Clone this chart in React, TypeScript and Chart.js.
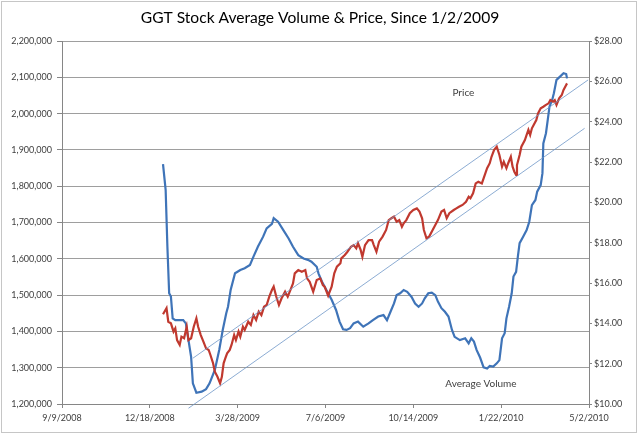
import { useEffect, useRef } from "react"
import { Chart, registerables } from "chart.js"

Chart.register(...registerables)

// dates are Excel serial numbers (39700 = 9/9/2008)
const volumeDates = [
  39815, 39818, 39820, 39822, 39824, 39826, 39829, 39838, 39841, 39844, 39847, 39849, 39853, 39859, 39864, 39868,
  39874, 39879, 39883, 39887, 39889, 39892, 39897, 39903, 39908, 39914, 39918, 39923, 39929, 39933, 39939, 39941,
  39946, 39952, 39958, 39963, 39969, 39975, 39980, 39984, 39990, 39992, 39996, 40001, 40007, 40012, 40016, 40020,
  40024, 40028, 40032, 40037, 40043, 40049, 40054, 40060, 40066, 40070, 40074, 40078, 40081, 40085, 40089, 40093,
  40098, 40102, 40106, 40110, 40113, 40117, 40121, 40125, 40128, 40132, 40136, 40140, 40144, 40147, 40153, 40159,
  40163, 40166, 40169, 40172, 40176, 40180, 40184, 40187, 40191, 40195, 40198, 40201, 40204, 40206, 40209, 40212,
  40214, 40217, 40219, 40221, 40225, 40229, 40232, 40235, 40239, 40241, 40245, 40247, 40248, 40251, 40253, 40255,
  40258, 40260, 40263, 40267, 40271, 40274, 40275,
]
const volumeValues = [
  1861000, 1790000, 1633000, 1505000, 1496000, 1436000, 1431000, 1431000, 1422000, 1376000, 1330000, 1257000,
  1231000, 1234000, 1241000, 1257000, 1294000, 1349000, 1404000, 1450000, 1468000, 1514000, 1560000, 1569000,
  1574000, 1583000, 1606000, 1633000, 1661000, 1684000, 1696000, 1712000, 1702000, 1679000, 1656000, 1633000,
  1610000, 1601000, 1597000, 1592000, 1578000, 1560000, 1537000, 1514000, 1487000, 1459000, 1427000, 1406000,
  1404000, 1409000, 1422000, 1427000, 1413000, 1422000, 1431000, 1441000, 1445000, 1431000, 1454000, 1477000,
  1500000, 1505000, 1514000, 1509000, 1495000, 1477000, 1468000, 1477000, 1491000, 1505000, 1507000, 1500000,
  1482000, 1464000, 1454000, 1441000, 1404000, 1385000, 1376000, 1381000, 1367000, 1381000, 1372000, 1349000,
  1328000, 1301000, 1298000, 1305000, 1303000, 1312000, 1321000, 1381000, 1395000, 1436000, 1468000, 1505000,
  1551000, 1564000, 1606000, 1643000, 1661000, 1679000, 1702000, 1748000, 1762000, 1785000, 1803000, 1836000,
  1918000, 1946000, 1982000, 2019000, 2037000, 2056000, 2093000, 2102000, 2111000, 2109000, 2097000,
]

const priceDates = [
  39815, 39819, 39821, 39824, 39827, 39829, 39831, 39834, 39836, 39839, 39842, 39844, 39847, 39850, 39853, 39855,
  39858, 39861, 39864, 39867, 39869, 39872, 39874, 39877, 39880, 39882, 39884, 39886, 39888, 39891, 39893, 39896,
  39898, 39901, 39903, 39906, 39908, 39912, 39915, 39918, 39921, 39924, 39927, 39930, 39933, 39936, 39939, 39941,
  39944, 39947, 39950, 39954, 39957, 39960, 39963, 39965, 39969, 39973, 39977, 39979, 39982, 39986, 39990, 39994,
  39997, 39999, 40003, 40007, 40010, 40013, 40017, 40018, 40022, 40025, 40029, 40032, 40035, 40037, 40040, 40042,
  40045, 40049, 40053, 40055, 40058, 40061, 40065, 40069, 40072, 40075, 40078, 40081, 40084, 40087, 40089, 40092,
  40096, 40100, 40104, 40107, 40110, 40112, 40115, 40118, 40122, 40125, 40128, 40132, 40135, 40138, 40141, 40146,
  40149, 40152, 40156, 40160, 40163, 40165, 40168, 40171, 40174, 40178, 40180, 40184, 40187, 40189, 40192, 40195,
  40198, 40201, 40203, 40206, 40208, 40211, 40213, 40215, 40217, 40218, 40221, 40223, 40227, 40229, 40231, 40233,
  40235, 40237, 40240, 40242, 40245, 40248, 40251, 40254, 40256, 40259, 40261, 40263, 40266, 40269, 40271, 40274,
  40275,
]
const priceValues = [
  14.45, 14.75, 14.08, 14.0, 13.59, 13.75, 13.17, 12.93, 13.34, 13.26, 13.83, 13.17, 13.26, 13.83, 14.25, 13.83,
  13.42, 13.09, 12.76, 12.68, 12.43, 12.02, 11.6, 11.35, 11.03, 11.35, 12.02, 12.27, 12.51, 12.68, 12.93, 13.42,
  13.17, 13.59, 13.34, 13.83, 13.67, 14.08, 13.92, 14.41, 14.17, 14.58, 14.41, 14.82, 14.91, 15.32, 15.65, 15.82,
  15.32, 14.91, 15.24, 15.57, 15.32, 15.65, 15.98, 16.48, 16.64, 16.56, 16.64, 16.23, 16.06, 15.57, 16.15, 16.23,
  15.9, 15.82, 15.37, 15.82, 16.48, 16.81, 16.98, 17.22, 17.39, 17.55, 17.8, 17.88, 17.72, 17.97, 17.64, 17.3,
  17.88, 18.13, 18.13, 17.88, 17.55, 18.05, 18.3, 18.63, 19.12, 19.21, 19.29, 19.04, 19.12, 18.79, 18.96, 19.12,
  19.46, 19.62, 19.7, 19.54, 19.21, 18.63, 18.22, 18.3, 18.63, 18.88, 19.12, 19.54, 19.62, 19.21, 19.46, 19.62,
  19.7, 19.78, 19.87, 20.03, 20.28, 20.2, 20.45, 20.94, 21.02, 20.94, 21.19, 21.69, 21.94, 22.26, 22.6, 22.76,
  22.35, 21.77, 22.01, 21.69, 21.94, 22.26, 21.77, 21.52, 21.36, 21.85, 22.35, 22.76, 23.09, 23.34, 23.59, 23.34,
  23.67, 23.83, 24.08, 24.41, 24.66, 24.74, 24.83, 24.91, 25.07, 24.99, 25.07, 24.83, 25.16, 25.32, 25.57, 25.82,
  25.9,
]

const upperTrendDates = [39849, 40299]
const upperTrendValues = [12.27, 26.07]
const lowerTrendDates = [39844, 40295]
const lowerTrendValues = [9.79, 23.67]

const titleText = "GGT Stock Average Volume & Price, Since 1/2/2009"
const priceLabel = { text: "Price", date: 40157, value: 25.42 }
const volumeLabel = { text: "Average Volume", date: 40177, value: 1255000 }

const FONT = "Lato, 'Open Sans', sans-serif"
const textColor = "#404040"
const axisColor = "#868686"

function serialToLabel(v: number) {
  const d = new Date(Date.UTC(1899, 11, 30) + v * 86400000)
  return `${d.getUTCMonth() + 1}/${d.getUTCDate()}/${d.getUTCFullYear()}`
}

function toPoints(xs: number[], ys: number[]) {
  return xs.map((x, i) => ({ x, y: ys[i] }))
}

const decorations = {
  id: "decorations",
  beforeDraw(chart: Chart) {
    const ctx = chart.ctx
    ctx.save()
    ctx.fillStyle = "#ffffff"
    ctx.fillRect(0, 0, chart.width, chart.height)
    ctx.restore()
  },
  afterDraw(chart: Chart) {
    const ctx = chart.ctx
    const x = chart.scales.x
    const yVol = chart.scales.y
    const yPrice = chart.scales.y1
    ctx.save()
    ctx.strokeStyle = "#c6c6c6"
    ctx.lineWidth = 1
    ctx.strokeRect(1.5, 1.5, 635, 431)

    ctx.fillStyle = "#000000"
    ctx.font = `15.6px ${FONT}`
    ctx.textAlign = "center"
    ctx.textBaseline = "middle"
    ctx.fillText(titleText, 320, 18)

    ctx.fillStyle = textColor
    ctx.font = `10px ${FONT}`
    ctx.fillText(priceLabel.text, x.getPixelForValue(priceLabel.date), yPrice.getPixelForValue(priceLabel.value))
    ctx.fillText(volumeLabel.text, x.getPixelForValue(volumeLabel.date), yVol.getPixelForValue(volumeLabel.value))
    ctx.restore()
  },
}

export default function App() {
  const chartRef = useRef<HTMLCanvasElement>(null)
  const chartInstance = useRef<Chart | null>(null)

  useEffect(() => {
    document.body.style.margin = "0"
    if (!chartRef.current) return
    if (chartInstance.current) chartInstance.current.destroy()
    const ctx = chartRef.current.getContext("2d")
    if (!ctx) return

    chartInstance.current = new Chart(ctx, {
      type: "line",
      data: {
        datasets: [
          {
            label: "Upper trend",
            data: toPoints(upperTrendDates, upperTrendValues),
            yAxisID: "y1",
            borderColor: "#6f97c8",
            borderWidth: 0.8,
            pointRadius: 0,
            clip: 8,
          },
          {
            label: "Lower trend",
            data: toPoints(lowerTrendDates, lowerTrendValues),
            yAxisID: "y1",
            borderColor: "#6f97c8",
            borderWidth: 0.8,
            pointRadius: 0,
            clip: 8,
          },
          {
            label: "Price",
            data: toPoints(priceDates, priceValues),
            yAxisID: "y1",
            borderColor: "#c0392f",
            borderWidth: 2.2,
            pointRadius: 0,
          },
          {
            label: "Average Volume",
            data: toPoints(volumeDates, volumeValues),
            yAxisID: "y",
            borderColor: "#3f74b8",
            borderWidth: 2.2,
            pointRadius: 0,
          },
        ],
      },
      options: {
        responsive: true,
        maintainAspectRatio: false,
        animation: false,
        layout: { padding: { top: 41, left: 0, right: 0, bottom: 0 } },
        elements: { line: { tension: 0 } },
        plugins: {
          legend: { display: false },
          title: { display: false },
          tooltip: { enabled: false },
        },
        scales: {
          x: {
            type: "linear",
            min: 39700,
            max: 40300,
            afterFit: (scale) => {
              scale.height = 32
            },
            border: { color: axisColor },
            grid: { drawOnChartArea: false, tickLength: 4, color: axisColor },
            ticks: {
              stepSize: 100,
              padding: 5,
              color: textColor,
              font: { family: FONT, size: 9 },
              maxRotation: 0,
              callback: (v) => serialToLabel(Number(v)),
            },
          },
          y: {
            position: "left",
            min: 1200000,
            max: 2200000,
            afterFit: (scale) => {
              scale.width = 62
            },
            border: { color: axisColor },
            grid: { color: "#9e9e9e", tickLength: 5, tickColor: axisColor },
            ticks: {
              stepSize: 100000,
              padding: 5,
              color: textColor,
              font: { family: FONT, size: 9 },
              callback: (v) => Number(v).toLocaleString("en-US"),
            },
          },
          y1: {
            position: "right",
            min: 10,
            max: 28,
            afterFit: (scale) => {
              scale.width = 51
            },
            border: { color: axisColor },
            grid: { drawOnChartArea: false, tickLength: 3, color: axisColor },
            ticks: {
              stepSize: 2,
              padding: 2,
              color: textColor,
              font: { family: FONT, size: 9 },
              callback: (v) => "$" + Number(v).toFixed(2),
            },
          },
        },
      },
      plugins: [decorations],
    })

    return () => {
      if (chartInstance.current) {
        chartInstance.current.destroy()
        chartInstance.current = null
      }
    }
  }, [])

  return (
    <div style={{ width: 640, height: 436, position: "relative" }}>
      <canvas ref={chartRef}></canvas>
    </div>
  )
}
